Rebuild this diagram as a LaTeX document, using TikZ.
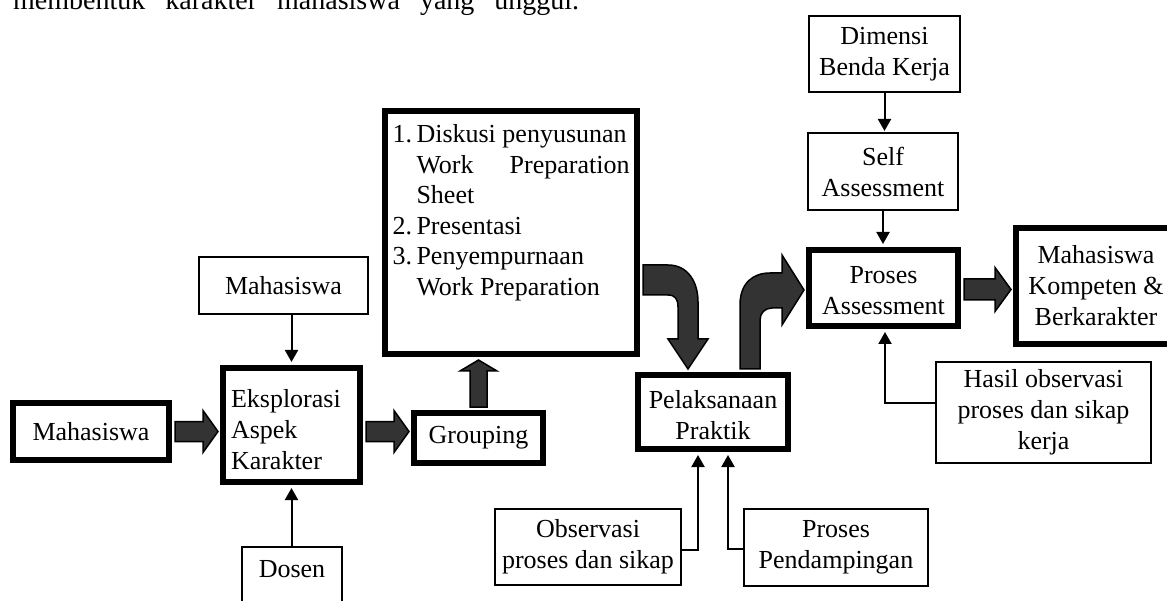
\documentclass[tikz,border=0pt]{standalone}
\usepackage{fontspec}
\setmainfont{Liberation Serif}
\usetikzlibrary{arrows.meta,calc}
\definecolor{arrowfill}{HTML}{333333}
\newcommand\boxfont{\fontsize{26}{31}\selectfont}
% horizontal block arrow: start point, tip point, shaft half-height, head half-height, head length
\newcommand\hbig[5]{%
  \draw[bigarrow] let \p1=(#1), \p2=(#2) in
    (\x1,\y1+#3) -- (\x2-#5,\y1+#3) -- (\x2-#5,\y1+#4) -- (\x2,\y1)
    -- (\x2-#5,\y1-#4) -- (\x2-#5,\y1-#3) -- (\x1,\y1-#3) -- cycle;}

\begin{document}
\begin{tikzpicture}[x=1pt,y=-1pt,
  thickbox/.style={draw, line width=6pt, fill=white, inner sep=0pt, align=center, font=\boxfont},
  thinbox/.style={draw, line width=2pt, fill=white, inner sep=0pt, align=center, font=\boxfont},
  link/.style={line width=2pt, -{Triangle[length=12pt,width=13pt]}},
  bigarrow/.style={draw=black, line width=1.5pt, fill=arrowfill, line join=miter}]
\useasboundingbox (0,0) rectangle (1167,601);
\clip (0,0) rectangle (1167,601);

% running text above the chart
\node[anchor=base west, inner sep=0pt, font=\fontsize{28}{33}\selectfont] (lead) at (13,10)
  {\hbox to 566pt{membentuk\hfill karakter\hfill mahasiswa\hfill yang\hfill unggul.}};

% main stages (thick frames)
\node[thickbox, minimum width=156pt, minimum height=57pt] (m1) at (91,431.5) {Mahasiswa};
\node[thickbox, minimum width=137pt, minimum height=114pt, text width=121pt, align=left] (eks) at (291.5,425)
  {\rule{0pt}{28pt}Eksplorasi\\Aspek\\Karakter};
\node[thickbox, minimum width=129pt, minimum height=50pt] (grp) at (478.5,438) {Grouping};
\node[thickbox, minimum width=252pt, minimum height=243pt] (list) at (511,232.5)
  {\parbox[c][237pt][t]{237pt}{\fontsize{26}{30.5}\selectfont
   \rule{0pt}{29pt}\makebox[24pt][l]{1.}Diskusi penyusunan\\
   \hspace*{24pt}\makebox[213pt][s]{Work\hfill Preparation}\\
   \hspace*{24pt}Sheet\\
   \makebox[24pt][l]{2.}Presentasi\\
   \makebox[24pt][l]{3.}Penyempurnaan\\
   \hspace*{24pt}Work Preparation}};
\node[thickbox, minimum width=150pt, minimum height=74pt] (pel) at (713,412) {\rule{0pt}{24pt}Pelaksanaan\\Praktik};
\node[thickbox, minimum width=149pt, minimum height=76pt] (pa) at (883.5,288) {\rule{0pt}{22pt}Proses\\Assessment};
\node[thickbox, minimum width=160pt, minimum height=116pt] (mk) at (1096,286)
  {Mahasiswa\\Kompeten \&\\Berkarakter};

% inputs (thin frames)
\node[thinbox, minimum width=169pt, minimum height=57pt] (m2) at (283.5,285.5) {Mahasiswa};
\node[thinbox, minimum width=100pt, text height=30pt, text depth=44pt, anchor=base] (dosen) at (292,577) {Dosen};
\node[thinbox, minimum width=151pt, minimum height=76pt] (dim) at (884.5,54) {Dimensi\\Benda Kerja};
\node[thinbox, minimum width=150pt, minimum height=77pt] (self) at (883,171.5) {Self\\Assessment};
\node[thinbox, minimum width=215pt, minimum height=101pt] (hasil) at (1043.5,412.5)
  {Hasil observasi\\proses dan sikap\\kerja};
\node[thinbox, minimum width=186pt, minimum height=76pt] (obs) at (588,547) {Observasi\\proses dan sikap};
\node[thinbox, minimum width=184pt, minimum height=77pt] (pend) at (836,547.5) {Proses\\Pendampingan};

% thin connectors
\draw[link] (m2.south -| eks.north) -- ($(eks.north)+(0,-3)$);
\draw[link] (dosen.north -| eks.south) -- ($(eks.south)+(0,3)$);
\draw[link] (dim.south) -- ($(dim.south |- self.north)+(0,-1)$);
\draw[link] (self.south) -- ($(self.south |- pa.north)+(0,-3)$);
\draw[link] ($(hasil.west)+(0,-9.5)$) -| ($(pa.south)+(1.5,3)$);
\draw[link] ($(obs.east)+(0,3)$) -| ($(pel.south)+(-15,3)$);
\draw[link] ($(pend.west)+(0,1.5)$) -| ($(pel.south)+(15,3)$);

% straight block arrows
\hbig{$(m1.east)+(3,0)$}{$(eks.west |- m1.east)+(-2,0)$}{10}{21}{15}
\hbig{$(eks.east |- m1.east)+(3,0)$}{$(grp.west |- m1.east)+(-2,0)$}{10}{21}{15}
\hbig{$(pa.east)+(3,1.5)$}{$(mk.west |- pa.east)+(-2,1.5)$}{10.5}{22}{16}
\draw[bigarrow] let \p1=(grp.north), \p2=(list.south) in
  (\x1-8.5,\y1+3) -- (\x1-8.5,\y2-14) -- (\x1-18.5,\y2-14) -- (\x1,\y2-3)
  -- (\x1+18.5,\y2-14) -- (\x1+8.5,\y2-14) -- (\x1+8.5,\y1+3) -- cycle;

% bent block arrows into and out of the practice stage
\draw[bigarrow] let \p1=(list.east), \p2=(pel.north) in
  (\x1+3,\y2+107) -- (\x2-45,\y2+107)
  .. controls (\x2-25,\y2+107) and (\x2-15,\y2+90) .. (\x2-15,\y2+70)
  -- (\x2-15,\y2+33) -- (\x2-5,\y2+33) -- (\x2-25,\y2+3) -- (\x2-45,\y2+33) -- (\x2-35,\y2+33)
  -- (\x2-35,\y2+65)
  .. controls (\x2-35,\y2+73) and (\x2-38,\y2+77) .. (\x2-45,\y2+77)
  -- (\x1+3,\y2+77) -- cycle;
\draw[bigarrow] let \p1=(pel.north), \p2=(pa.west) in
  (\x1+27,\y1+3) -- (\x1+27,\y2-17)
  .. controls (\x1+27,\y2+5) and (\x1+40,\y2+15) .. (\x1+57,\y2+15)
  -- (\x2-24,\y2+15) -- (\x2-24,\y2+33) -- (\x2-2,\y2-2) -- (\x2-24,\y2-37) -- (\x2-24,\y2-20)
  -- (\x1+59,\y2-20)
  .. controls (\x1+52,\y2-20) and (\x1+47,\y2-25) .. (\x1+47,\y2-32)
  -- (\x1+47,\y1+3) -- cycle;
\end{tikzpicture}
\end{document}
